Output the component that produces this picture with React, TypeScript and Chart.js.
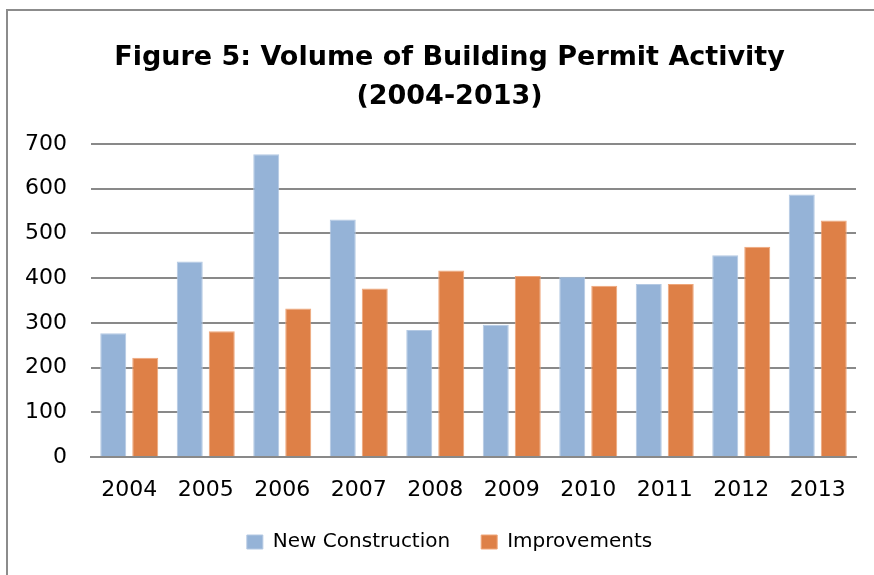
import React, { useEffect, useRef } from "react";
import { Chart, registerables } from "chart.js";

Chart.register(...registerables);

const years = ["2004", "2005", "2006", "2007", "2008", "2009", "2010", "2011", "2012", "2013"];
const newConstruction = [277, 437, 677, 531, 284, 296, 403, 387, 451, 587];
const improvements = [222, 281, 332, 377, 417, 405, 383, 387, 470, 529];
const titleLines = ["Figure 5: Volume of Building Permit Activity", "(2004-2013)"];
const yMin = 0;
const yMax = 700;
const yStep = 100;

// Centre the title and legend over the region the original centres them on.
const centerBoxes = {
  id: "centerBoxes",
  afterLayout(chart: any) {
    const boxes = [chart.titleBlock, chart.legend];
    boxes.forEach((b: any) => {
      if (!b) return;
      b.left = 43;
      b.right = 856;
      b.width = b.right - b.left;
    });
  },
};

export default function App() {
  const ref = useRef<HTMLCanvasElement>(null);

  useEffect(() => {
    if (!ref.current) return;
    const tickFont = { family: "DejaVu Sans", size: 22, lineHeight: 1 };
    const chart = new Chart(ref.current, {
      type: "bar",
      data: {
        labels: years,
        datasets: [
          {
            label: "New Construction",
            data: newConstruction,
            backgroundColor: "#95B3D7",
            borderColor: "#B4C9E3",
            borderWidth: 1,
            categoryPercentage: 0.8366,
            barPercentage: 0.8125,
          },
          {
            label: "Improvements",
            data: improvements,
            backgroundColor: "#DE8047",
            borderColor: "#EFA67A",
            borderWidth: 1,
            categoryPercentage: 0.8366,
            barPercentage: 0.8125,
          },
        ],
      },
      plugins: [centerBoxes],
      options: {
        responsive: false,
        animation: false,
        layout: { padding: { left: 0, right: 18, top: 0, bottom: 13 } },
        plugins: {
          title: {
            display: true,
            text: titleLines,
            color: "#000",
            font: { family: "DejaVu Sans", size: 27, weight: "bold", lineHeight: 1.444 },
            padding: { top: 38.5, bottom: 27.5 },
          },
          legend: {
            position: "bottom",
            labels: {
              boxWidth: 16,
              boxHeight: 14,
              padding: 31,
              color: "#000",
              font: { family: "DejaVu Sans", size: 20 },
            },
          },
          tooltip: { enabled: false },
        },
        scales: {
          x: {
            grid: { display: false, drawTicks: false },
            border: { display: true, color: "#898989", width: 2 },
            ticks: { padding: 22, color: "#000", font: tickFont, maxRotation: 0 },
            afterFit: (scale: any) => {
              scale.height = 44;
            },
          },
          y: {
            min: yMin,
            max: yMax,
            grid: { color: "#898989", lineWidth: 2, drawTicks: false },
            border: { display: false },
            ticks: { stepSize: yStep, padding: 24, color: "#000", font: tickFont },
            afterFit: (scale: any) => {
              scale.width = 91;
            },
          },
        },
      },
    });
    return () => chart.destroy();
  }, []);

  return (
    <div style={{ position: "fixed", left: 0, top: 0, width: 874, height: 575, background: "#fff", overflow: "hidden" }}>
      <div
        style={{
          position: "absolute",
          left: 6,
          top: 9,
          width: 900,
          height: 600,
          borderLeft: "2px solid #8c8c8c",
          borderTop: "2px solid #8c8c8c",
        }}
      />
      <canvas ref={ref} width={874} height={575} style={{ position: "absolute", left: 0, top: 0 }} />
    </div>
  );
}
